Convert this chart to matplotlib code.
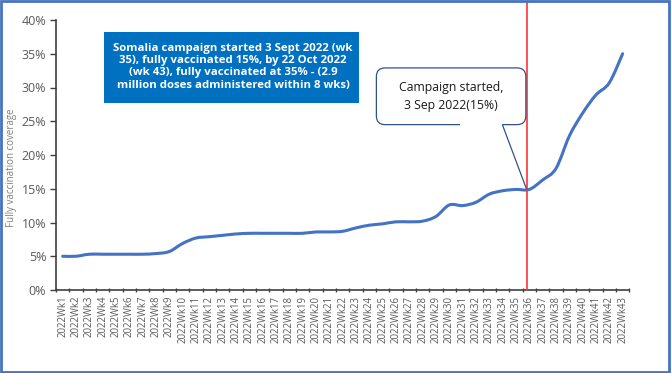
import matplotlib
matplotlib.use("Agg")
import matplotlib.pyplot as plt
from matplotlib.path import Path
from matplotlib.patches import PathPatch, FancyBboxPatch, Polygon, Rectangle
import numpy as np

weeks = [f"2022Wk{i}" for i in range(1, 44)]
coverage = [5.0, 5.0, 5.3, 5.3, 5.3, 5.3, 5.3, 5.4, 5.7, 6.9,
            7.7, 7.9, 8.1, 8.3, 8.4, 8.4, 8.4, 8.4, 8.4, 8.6,
            8.6, 8.7, 9.2, 9.6, 9.8, 10.1, 10.1, 10.2, 10.9, 12.6,
            12.5, 13.0, 14.2, 14.7, 14.9, 14.9, 16.3, 18.0, 22.8, 26.2,
            28.9, 30.7, 35.0]
yticks = [0, 5, 10, 15, 20, 25, 30, 35, 40]
campaign_week = 34.8

plt.rcParams['font.family'] = ['Open Sans', 'DejaVu Sans']

fig = plt.figure(figsize=(6.72, 3.73), dpi=100)
ax = fig.add_axes([56/672, 1-290/373, (629.3-56)/672, (290-20)/373])

x = np.arange(len(coverage), dtype=float)
y = np.array(coverage, dtype=float)

# smoothed line (Catmull-Rom as cubic Bezier)
verts = [(x[0], y[0])]
codes = [Path.MOVETO]
n = len(x)
for i in range(n - 1):
    p0 = np.array([x[max(i-1, 0)], y[max(i-1, 0)]])
    p1 = np.array([x[i], y[i]])
    p2 = np.array([x[i+1], y[i+1]])
    p3 = np.array([x[min(i+2, n-1)], y[min(i+2, n-1)]])
    c1 = p1 + (p2 - p0) / 6.0
    c2 = p2 - (p3 - p1) / 6.0
    verts += [tuple(c1), tuple(c2), tuple(p2)]
    codes += [Path.CURVE4] * 3
ax.add_patch(PathPatch(Path(verts, codes), facecolor='none', edgecolor='#4472C4',
                       lw=2.2, capstyle='round', zorder=3))

ax.set_xlim(-0.5, n - 0.5)
ax.set_ylim(0, 40)
ax.set_yticks(yticks)
ax.set_yticklabels([f"{v}%" for v in yticks], color='#595959', fontsize=9)
ax.set_xticks(x)
ax.set_xticklabels(weeks, rotation=90, color='#595959', fontsize=6.9)
ax.set_xticks(np.arange(-0.5, n, 1.0), minor=True)
ax.tick_params(axis='x', which='major', length=0, pad=4)
ax.tick_params(axis='x', which='minor', length=3, width=1, color='#404040', direction='inout')
ax.tick_params(axis='y', length=4, width=1, color='#404040', pad=3)
for s in ['top', 'right']:
    ax.spines[s].set_visible(False)
for s in ['left', 'bottom']:
    ax.spines[s].set_color('#404040')
    ax.spines[s].set_linewidth(1.2)

fig.text(12/672, 1-168/373, "Fully vaccination coverage", rotation=90, color='#7f7f7f',
         fontsize=7, ha='center', va='center')

# red campaign line
ax.plot([campaign_week, campaign_week], [0, 42.5], color='#FF3333', lw=1.2,
        clip_on=False, zorder=4)

# blue info box
ax.add_patch(Rectangle((3.1, 27.75), 22.25 - 3.1, 38.2 - 27.75, facecolor='#0070C0',
                       edgecolor='none', zorder=5, clip_on=False))
ax.text((3.1 + 22.25) / 2 + 0.1, (27.75 + 38.2) / 2 + 0.1,
        "Somalia campaign started 3 Sept 2022 (wk\n35), fully vaccinated 15%, by 22 Oct 2022\n"
        "(wk 43), fully vaccinated at 35% - (2.9\nmillion doses administered within 8 wks)",
        ha='center', va='center', color='white', fontsize=8.2, fontweight='bold',
        family=['Liberation Sans Narrow', 'Open Sans', 'DejaVu Sans'],
        linespacing=1.15, zorder=6)

# callout
bx0, bx1, by0, by1 = 23.53, 34.74, 24.5, 32.9
ax.add_patch(FancyBboxPatch((bx0, by0), bx1 - bx0, by1 - by0,
                            boxstyle="round,pad=0,rounding_size=0.65",
                            mutation_aspect=13.33/6.75,
                            facecolor='white', edgecolor='#2F528F', lw=0.9, zorder=5))
ax.add_patch(Polygon([(29.81, by0), (32.98, by0), (campaign_week, coverage[35])],
                     closed=False, facecolor='white', edgecolor='#2F528F', lw=0.9, zorder=6))
ax.plot([29.9, 32.9], [by0, by0], color='white', lw=1.5, zorder=7)
ax.text((bx0 + bx1) / 2, (by0 + by1) / 2, "Campaign started,\n3 Sep 2022(15%)",
        ha='center', va='center', fontsize=8.8, color='#1a1a1a', linespacing=1.5, zorder=8)

# outer border
fig.patches.append(Rectangle((0.002, 0.003), 0.994, 0.993, transform=fig.transFigure,
                             facecolor='none', edgecolor='#4472C4', lw=2))

fig.savefig("out.png", dpi=100)
